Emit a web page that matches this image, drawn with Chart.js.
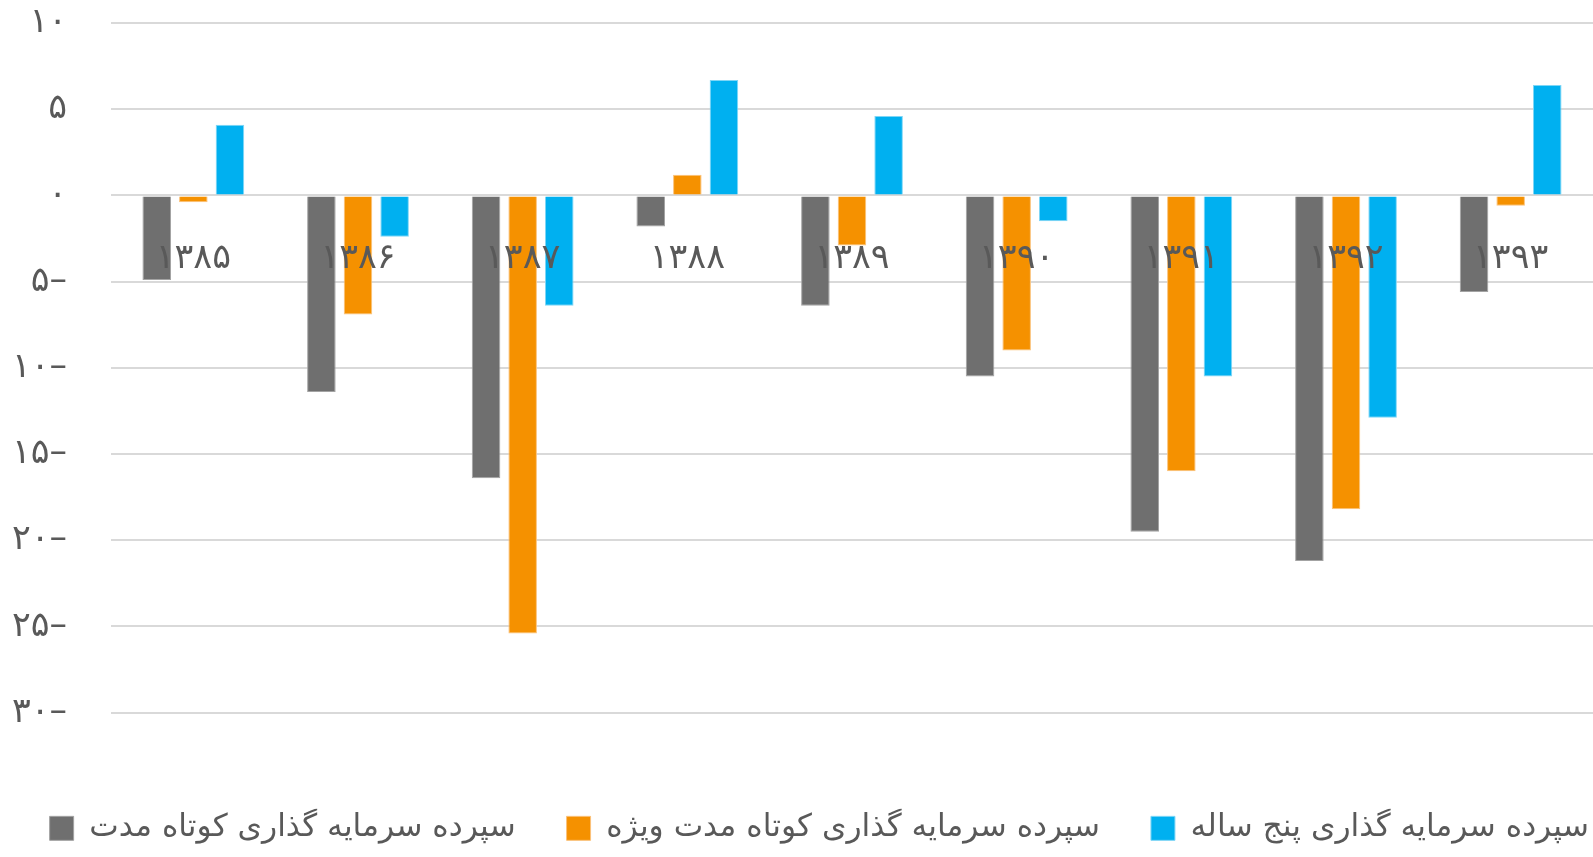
<!DOCTYPE html>
<html lang="fa">
<head>
<meta charset="UTF-8">
<title>سپرده های سرمایه گذاری</title>
<script src="https://cdn.jsdelivr.net/npm/chart.js@4.4.1/dist/chart.umd.min.js"></script>
<style>
    html, body { margin: 0; padding: 0; background: #ffffff; }
    #wrap { width: 1593px; height: 857px; }
</style>
</head>
<body>
<div id="wrap"><canvas id="myChart"></canvas></div>
<script>
    // data
    const years = ['۱۳۸۵', '۱۳۸۶', '۱۳۸۷', '۱۳۸۸', '۱۳۸۹', '۱۳۹۰', '۱۳۹۱', '۱۳۹۲', '۱۳۹۳'];
    const shortTerm = [-4.9, -11.4, -16.4, -1.8, -6.4, -10.5, -19.5, -21.2, -5.6];
    const shortTermSpecial = [-0.4, -6.9, -25.4, 1.2, -2.9, -9.0, -16.0, -18.2, -0.6];
    const fiveYear = [4.1, -2.4, -6.4, 6.7, 4.6, -1.5, -10.5, -12.9, 6.4];
    const seriesNames = ['سپرده سرمایه گذاری کوتاه مدت', 'سپرده سرمایه گذاری کوتاه مدت ویژه', 'سپرده سرمایه گذاری پنج ساله'];
    const yTickValues = [10, 5, 0, -5, -10, -15, -20, -25, -30];
    const yTickLabels = ['۱۰', '۵', '۰', '۵–', '۱۰–', '۱۵–', '۲۰–', '۲۵–', '۳۰–'];

    const FONT = '"DejaVu Sans", sans-serif';
    const TEXT = '#595959';
    // wider gap between legend items without making the legend wrap
    const GAP = '\u2003\u2002';

    // year labels sit just under the zero line, over the bars
    const yearLabels = {
        id: 'yearLabels',
        afterDatasetsDraw(chart) {
            const ctx = chart.ctx;
            const xs = chart.scales.x, ys = chart.scales.y;
            ctx.save();
            ctx.font = '35px ' + FONT;
            ctx.fillStyle = TEXT;
            ctx.textAlign = 'center';
            ctx.textBaseline = 'middle';
            const yy = ys.getPixelForValue(0) + 63;
            years.forEach((t, i) => ctx.fillText(t, xs.getPixelForValue(i), yy));
            ctx.restore();
        }
    };

    const data = {
        labels: years,
        datasets: [
            { label: seriesNames[0], data: shortTerm, backgroundColor: '#6f6f6f', borderColor: '#a3a3a3', borderWidth: 1 },
            { label: seriesNames[1], data: shortTermSpecial, backgroundColor: '#f59100', borderColor: '#fbc27a', borderWidth: 1 },
            { label: seriesNames[2], data: fiveYear, backgroundColor: '#00b0f0', borderColor: '#7fd6f6', borderWidth: 1 }
        ]
    };

    const config = {
        type: 'bar',
        data,
        plugins: [yearLabels],
        options: {
            responsive: true,
            maintainAspectRatio: false,
            animation: false,
            layout: { padding: { top: 23, right: 0, bottom: 3, left: 0 } },
            datasets: { bar: { categoryPercentage: 0.667, barPercentage: 0.78 } },
            scales: {
                x: {
                    ticks: { display: false },
                    grid: { display: false },
                    border: { display: false },
                    afterFit(scale) { scale.height = 96; }
                },
                y: {
                    min: -30,
                    max: 10,
                    afterBuildTicks(scale) { scale.ticks = yTickValues.map(v => ({ value: v })); },
                    afterFit(scale) {
                        scale.width = 111;
                        scale.paddingTop = 0;
                        scale.paddingBottom = 0;
                    },
                    ticks: {
                        padding: 44,
                        color: TEXT,
                        font: { family: FONT, size: 35 },
                        callback: (v) => yTickLabels[yTickValues.indexOf(v)]
                    },
                    grid: { color: '#d9d9d9', lineWidth: 2, drawTicks: false },
                    border: { display: false }
                }
            },
            plugins: {
                legend: {
                    position: 'bottom',
                    align: 'end',
                    labels: {
                        boxWidth: 24,
                        boxHeight: 24,
                        padding: 4,
                        color: TEXT,
                        font: { family: FONT, size: 31.3 },
                        generateLabels(chart) {
                            const items = Chart.defaults.plugins.legend.labels.generateLabels(chart);
                            items.forEach((it, i) => { if (i < items.length - 1) it.text = it.text + GAP; });
                            return items;
                        }
                    }
                },
                tooltip: { enabled: false }
            }
        }
    };

    new Chart(document.getElementById('myChart'), config);
</script>
</body>
</html>
